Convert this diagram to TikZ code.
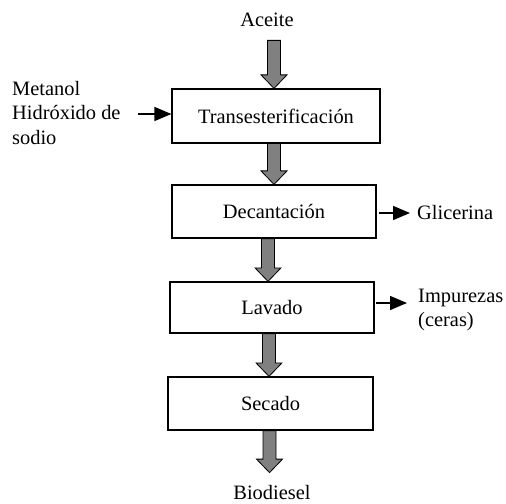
\documentclass[tikz,border=0pt]{standalone}
\usepackage{fontspec}
\setmainfont{Liberation Serif}
\usetikzlibrary{calc,arrows.meta}
\newcommand\fatarr[2]{%
  \draw[fatstyle] let \p1=#1, \p2=#2 in
    (\x1-6.5bp,\y1) -- (\x1+6.5bp,\y1) -- (\x1+6.5bp,\y2+13.5bp) -- (\x1+13bp,\y2+13.5bp)
    -- (\x1,\y2) -- (\x1-13bp,\y2+13.5bp) -- (\x1-6.5bp,\y2+13.5bp) -- cycle;}
\begin{document}
\begin{tikzpicture}[x=1bp,y=-1bp,
  every node/.style={font=\fontsize{20.5}{25}\selectfont, inner sep=0pt},
  stepbox/.style={draw, line width=1.2bp, minimum height=53bp},
  fatstyle/.style={fill=gray, draw=black, line width=0.8bp, line join=miter},
  side/.style={line width=1.5bp, -{Triangle[length=17bp,width=14bp]}},
  lbl/.style={align=left}]
\useasboundingbox (0,0) rectangle (506,504);
\node[anchor=base] (ace) at (267,27) {Aceite};
\node[stepbox, minimum width=208bp, minimum height=54bp] (t) at (276,116) {Transesterificación};
\node[stepbox, minimum width=204bp] (d) at (274,211.5) {Decantación};
\node[stepbox, minimum width=204bp, minimum height=51bp] (l) at (272,307.5) {Lavado};
\node[stepbox, minimum width=205bp] (s) at (270.5,403.5) {Secado};
\node[anchor=base] (bio) at (272,499) {Biodiesel};
\node[lbl, anchor=west] (met) at (12,113) {Metanol\\Hidróxido de\\sodio};
\node[anchor=west] (gli) at (417,213) {Glicerina};
\node[lbl, anchor=west] (imp) at (418,310) {Impurezas\\(ceras)};
% gray process arrows
\fatarr{($(ace.south)+(7,13)$)}{($(t.north)+(-2,0)$)}
\fatarr{($(t.south)+(-2,0)$)}{($(d.north)+(0,0)$)}
\fatarr{($(d.south)+(-6,0)$)}{($(l.north)+(-4,0)$)}
\fatarr{($(l.south)+(-3,0)$)}{($(s.north)+(-1.5,0)$)}
\fatarr{($(s.south)+(-1,0)$)}{($(bio.north)+(-2.5,-12)$)}
% side arrows
\coordinate (metR) at (138,114);
\draw[side] (metR) -- (t.west |- metR);
\draw[side] (d.east |- gli.west) ++(2,0) coordinate (dE) -- ($(gli.west)+(-7,0)$);
\draw[side] (l.east |- 0,303) ++(1,0) coordinate (lE) -- ($(imp.west)+(-11,-7)$);
\end{tikzpicture}
\end{document}
